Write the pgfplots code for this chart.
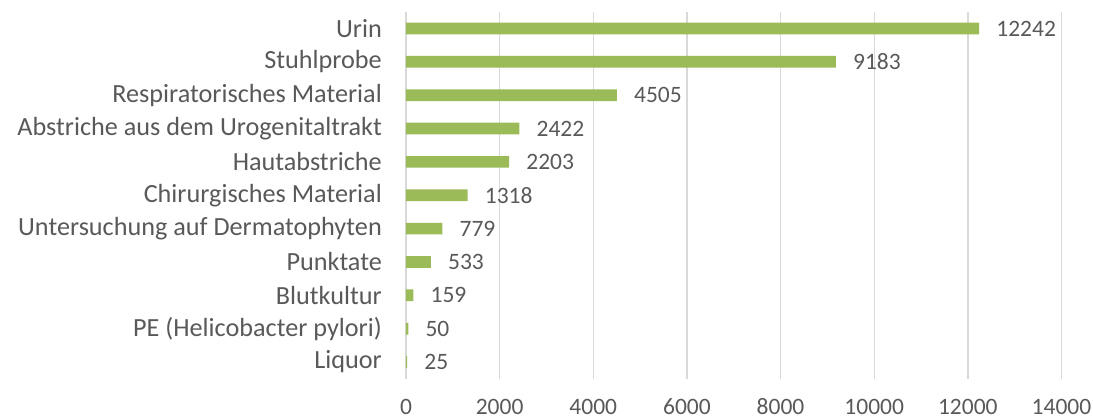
\documentclass[border=0pt]{standalone}
\usepackage{fontspec}
\setmainfont{Carlito}
\usepackage{pgfplots}
\pgfplotsset{compat=1.18}
\definecolor{bargreen}{HTML}{9BBB59}
\definecolor{txt}{HTML}{595959}
\definecolor{gridc}{HTML}{D9D9D9}
\begin{document}
\begin{tikzpicture}
\useasboundingbox (-406pt,-39.3pt) rectangle (687pt,378.7pt);
\begin{axis}[at={(0pt,0pt)}, anchor=south west, scale only axis,
  width=655.5pt, height=366.9pt,
  xbar, bar width=11.7pt,
  xmin=0, xmax=14000, ymin=-0.5, ymax=10.5,
  xtick={0,2000,...,14000}, ytick={0,...,10},
  yticklabels={Liquor,PE (Helicobacter pylori),Blutkultur,Punktate,Untersuchung auf Dermatophyten,Chirurgisches Material,Hautabstriche,Abstriche aus dem Urogenitaltrakt,Respiratorisches Material,Stuhlprobe,Urin},
  axis line style={draw=none}, major tick length=0pt,
  xmajorgrids, grid style={gridc, line width=1.3pt},
  scaled x ticks=false,
  /pgf/number format/1000 sep={},
  /pgf/number format/assume math mode=true,
  xticklabel style={font=\fontsize{23.5}{26}\selectfont, text=txt, anchor=base, inner sep=0pt, yshift=-36pt},
  yticklabel style={font=\fontsize{26.2}{28}\selectfont, text=txt, anchor=east, inner sep=0pt, xshift=-24pt},
  nodes near coords,
  point meta=x,
  nodes near coords style={anchor=west, inner sep=0pt, xshift=17pt, font=\fontsize{23.5}{26}\selectfont, text=txt},
]
\addplot[fill=bargreen, draw=none] coordinates {(25,0) (50,1) (159,2) (533,3) (779,4) (1318,5) (2203,6) (2422,7) (4505,8) (9183,9) (12242,10)};
\end{axis}
\end{tikzpicture}
\end{document}
